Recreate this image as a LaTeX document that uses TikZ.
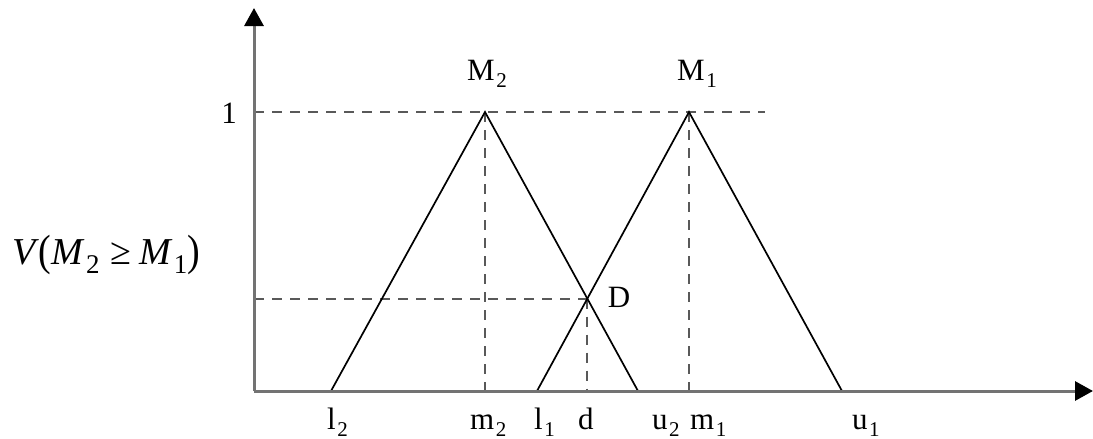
\documentclass[tikz,border=0pt]{standalone}
\usepackage{fontspec}
\setmainfont{Liberation Serif}
\usetikzlibrary{arrows.meta}
\newcommand\lowsub[1]{\hspace{1.5pt}\raisebox{-7pt}{\fontsize{21}{21}\selectfont #1}}
\newcommand\vsub[1]{\hspace{1pt}\raisebox{-9pt}{\fontsize{27}{27}\selectfont #1}}
\begin{document}
\begin{tikzpicture}[x=1pt,y=-1pt,
  axis/.style={draw=black!55,line width=3pt,-{Triangle[length=18pt,width=19pt,color=black]}},
  tri/.style={draw=black,line width=1.7pt},
  guide/.style={draw=black!65,line width=1.8pt,dash pattern=on 10pt off 8pt},
  lab/.style={inner sep=0pt,font=\fontsize{31}{34}\selectfont},
  blab/.style={inner sep=0pt,anchor=base west,font=\fontsize{31}{34}\selectfont}]
\useasboundingbox (0,0) rectangle (1093,439);
\coordinate (O) at (254,391);
\coordinate (ytop) at (254,8);
\coordinate (xend) at (1093,391);
\coordinate (l2) at (331,391);
\coordinate (m2) at (485,391);
\coordinate (M2) at (485,112);
\coordinate (u2) at (638,391);
\coordinate (l1) at (537,391);
\coordinate (m1) at (689,391);
\coordinate (M1) at (689,112);
\coordinate (u1) at (842,391);
\coordinate (D) at (intersection of M2--u2 and l1--M1);
\coordinate (d) at (D |- O);
\coordinate (one) at (254,112);
\coordinate (oneend) at (765,112);
\coordinate (Dy) at (D -| O);
% guides
\draw[guide] (one) -- (oneend);
\draw[guide] (Dy) -- (D);
\draw[guide] (M2) -- (m2);
\draw[guide] (M1) -- (m1);
\draw[guide] (D) -- (d);
% triangles
\draw[tri,line join=miter] (l2) -- (M2) -- (u2);
\draw[tri,line join=miter] (l1) -- (M1) -- (u1);
% axes
\draw[axis] (O) -- (ytop);
\draw[axis] (O) -- (xend);
% labels
\node[lab] (lab1) at (229,113) {1};
\node[blab] (labM2) at (467,80) {M\lowsub{2}};
\node[blab] (labM1) at (677,80) {M\lowsub{1}};
\node[lab] (labD) at (619,297) {D};
\node[inner sep=0pt,font=\fontsize{38}{42}\selectfont] (labV) at (106,255)
  {\textit{V\/}\raisebox{-1pt}{\scalebox{1}[1.15]{(}}\textit{M\/}\vsub{2}\hspace{0.3em}≥\hspace{0.2em}\textit{M\/}\vsub{1}\raisebox{-1pt}{\scalebox{1}[1.15]{)}}};
\node[blab] (bl2) at (327,429) {l\lowsub{2}};
\node[blab] (bm2) at (470,429) {m\lowsub{2}};
\node[blab] (bl1) at (534,429) {l\lowsub{1}};
\node[blab] (bd) at (578,429) {d};
\node[blab] (bu2) at (652,429) {u\lowsub{2}};
\node[blab] (bm1) at (690,429) {m\lowsub{1}};
\node[blab] (bu1) at (852,429) {u\lowsub{1}};
\end{tikzpicture}
\end{document}
